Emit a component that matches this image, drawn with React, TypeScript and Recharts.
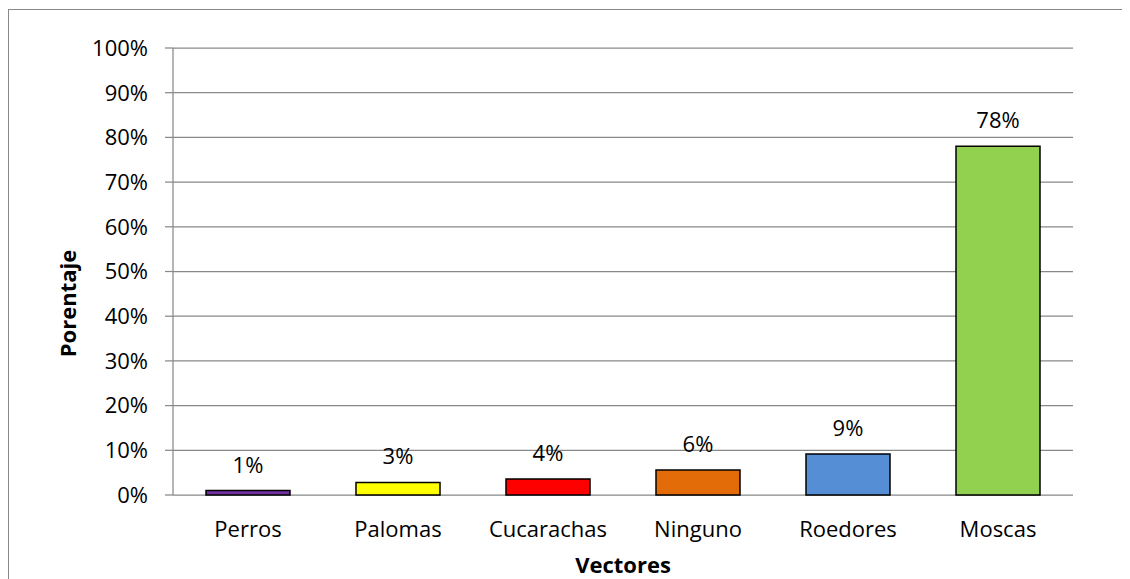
import React from 'react';
import { BarChart, Bar, XAxis, YAxis, CartesianGrid, Cell, LabelList, Label } from 'recharts';

const categories = ['Perros', 'Palomas', 'Cucarachas', 'Ninguno', 'Roedores', 'Moscas'];
const values = [1.0, 2.8, 3.6, 5.6, 9.2, 78.0];
const valueLabels = ['1%', '3%', '4%', '6%', '9%', '78%'];
const barColors = ['#7030A0', '#FFFF00', '#FF0000', '#E36C09', '#558ED5', '#92D050'];
const yTicks = [0, 10, 20, 30, 40, 50, 60, 70, 80, 90, 100];
const boundaryTicks = [0, 1, 2, 3, 4, 5, 6];
const xTitle = 'Vectores';
const yTitle = 'Porentaje';

const data = categories.map((name, i) => ({ name, value: values[i], label: valueLabels[i], idx: i }));

const FONT = "'Open Sans', 'Liberation Sans', sans-serif";
const GRAY = '#898989';

const YTitle = (props: any) => {
  const vb = props.viewBox || { x: 0, y: 40, width: 165, height: 447 };
  const cx = vb.x + 59;
  const cy = vb.y + vb.height / 2 + 32;
  return (
    <text
      x={cx}
      y={cy}
      transform={`rotate(-90 ${cx} ${cy})`}
      textAnchor="middle"
      dominantBaseline="central"
      fontFamily={FONT}
      fontSize={22}
      fontWeight="bold"
      fill="#000"
    >
      {yTitle}
    </text>
  );
};

export default function App() {
  return (
    <div style={{ position: 'relative', width: 1122, height: 571, overflow: 'hidden' }}>
      <div
        style={{
          position: 'absolute',
          top: 1,
          left: 0,
          width: 1300,
          height: 700,
          borderTop: `1.5px solid ${GRAY}`,
          borderLeft: `1.5px solid ${GRAY}`,
          boxSizing: 'border-box',
        }}
      />
      <div style={{ position: 'absolute', top: 0, left: 0 }}>
        <BarChart
          width={1122}
          height={571}
          data={data}
          margin={{ top: 40, right: 57, left: 0, bottom: 0 }}
          barCategoryGap="22%"
        >
          <CartesianGrid vertical={false} stroke={GRAY} strokeWidth={1.25} xAxisId="cat" />
          <XAxis
            xAxisId="b"
            type="number"
            domain={[0, 6]}
            ticks={boundaryTicks}
            height={0}
            tick={false}
            tickSize={8}
            axisLine={{ stroke: GRAY, strokeWidth: 1.25 }}
            tickLine={{ stroke: GRAY, strokeWidth: 1.25 }}
            allowDataOverflow
          />
          <XAxis
            xAxisId="cat"
            dataKey="name"
            height={84}
            tickSize={8}
            tickMargin={18}
            axisLine={false}
            tickLine={false}
            interval={0}
            tick={{ fill: '#000', fontSize: 22, fontFamily: FONT }}
          >
            <Label
              value={xTitle}
              position="insideBottom"
              offset={6}
              style={{ fill: '#000', fontSize: 22, fontFamily: FONT, fontWeight: 'bold' }}
            />
          </XAxis>
          <YAxis
            width={165}
            domain={[0, 100]}
            ticks={yTicks}
            interval={0}
            tickSize={8}
            tickMargin={17}
            tickFormatter={(v: number) => `${v}%`}
            axisLine={{ stroke: GRAY, strokeWidth: 1.25 }}
            tickLine={{ stroke: GRAY, strokeWidth: 1.25 }}
            tick={{ fill: '#000', fontSize: 22, fontFamily: FONT }}
          >
            <Label content={YTitle} />
          </YAxis>
          <Bar dataKey="value" xAxisId="cat" stroke="#000" strokeWidth={1.5} isAnimationActive={false}>
            {data.map((d) => (
              <Cell key={d.name} fill={barColors[d.idx]} />
            ))}
            <LabelList
              dataKey="label"
              position="top"
              offset={18}
              style={{ fill: '#000', fontSize: 22, fontFamily: FONT }}
            />
          </Bar>
        </BarChart>
      </div>
    </div>
  );
}
